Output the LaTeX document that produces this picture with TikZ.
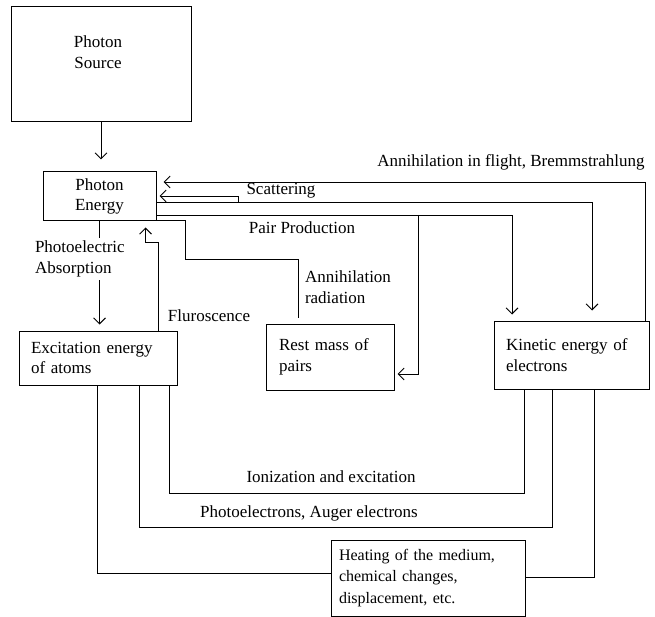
\documentclass[tikz,border=0pt]{standalone}
\usepackage{fontspec}
\setmainfont{Liberation Serif}
\usepackage{tikz}
\usetikzlibrary{calc}
\usetikzlibrary{arrows.meta,positioning}
\tikzset{
    boxnode/.style={
        draw,
        line width=1pt,
        rectangle,
        inner xsep=12pt,
        inner ysep=1pt
    },
    % arrows with open heads
    flowarrow/.style={
        line width=0.9pt,
        black,
        ->,
        >={Straight Barb[length=6pt, width=12pt]}
    },
    flowline/.style={
        line width=0.9pt,
        black
    }
}

\begin{document}
\begin{tikzpicture}[x=1pt,y=-1pt,font=\fontsize{17}{20.5}\selectfont]
	\useasboundingbox (0,0) rectangle (655,617);
	
	% boxes
	\node[boxnode,minimum width=180pt,minimum height=115pt] (source) at (101,64.5) {};
	\node[align=center] (sourcetext) at (98,52) {Photon\\Source};
	\node[boxnode,align=center,minimum width=113pt,minimum height=49pt,inner xsep=2pt] (energy) at (99.5,196.5) {Photon\\Energy};
	\node[boxnode,align=left,text width=134pt,minimum height=54pt] (excite) at (98,358) {Excitation energy\\of atoms};
	\node[boxnode,align=left,text width=102pt,minimum height=66pt,inner xsep=13pt] (rest) at (330,357) {Rest mass of\\pairs};
	\node[boxnode,align=left,text width=131pt,minimum height=68pt] (kinetic) at (571.5,355) {Kinetic energy of\\electrons};
	\node[boxnode,align=left,text width=178pt,minimum height=76pt,inner xsep=8pt,font=\fontsize{16}{21.5}\selectfont] (heat) at (428,578) {Heating of the medium,\\chemical changes,\\displacement, etc.};
	
	% source -> energy
	\draw[flowarrow] (source.south) -- ($(source.south |- energy.north)+(0,-12)$);
	
	% photoelectric absorption
	\node[align=left,anchor=west] (photoel) at (31.5,259) {Photoelectric\\Absorption};
	\draw[flowline] (energy.south) -- (energy.south |- photoel.north);
	\draw[flowarrow] (energy.south |- photoel.south) -- ($(excite.north -| energy.south)+(0,-6)$);
	
	% fluroscence
	\draw[flowarrow] ($(excite.north)+(60,0)$) -- ++(0,-88) -| ($(energy.south)+(46,6)$);
	\node (fluro) at (209,316) {Fluroscence};
	
	% annihilation in flight
	\draw[flowarrow] ($(kinetic.north)+(73.5,0)$) |- ($(energy.east)+(7,-14.5)$);
	\node (flight) at (511,162) {Annihilation in flight, Bremmstrahlung};
	
	% scattering
	\draw[flowarrow] ($(energy.east)+(0,5.5)$) -| ($(kinetic.north)+(20.5,-10)$);
	\draw[flowarrow] ($(energy.east)+(82,5.5)$) |- ($(energy.east)+(3,-0.5)$);
	\node (scatter) at (281,191) {Scattering};
	
	% pair production
	\draw[flowarrow] ($(energy.east)+(0,18.5)$) -| ($(kinetic.north)+(-59.5,-6)$);
	\draw[flowarrow] ($(energy.east)+(262,18.5)$) |- ($(rest.east)+(3,17)$);
	\node (pair) at (302,228) {Pair Production};
	
	% annihilation radiation
	\draw[flowline] ($(energy.east)+(0,23.5)$) -- ++(29,0) -- ++(0,39) -| ($(rest.north)+(-32,-6)$);
	\node[align=left,anchor=west] (annrad) at (301.5,287) {Annihilation\\radiation};
	
	% down to the medium
	\draw[flowline] ($(excite.south)+(71,0)$) -- ++(0,108) -| ($(kinetic.south)+(-47.5,0)$);
	\node (ioniz) at (331,477) {Ionization and excitation};
	\draw[flowline] ($(excite.south)+(41,0)$) -- ++(0,142) -| ($(kinetic.south)+(-19.5,0)$);
	\node (auger) at (309,513) {Photoelectrons, Auger electrons};
	\draw[flowline] ($(excite.south)+(-1,0)$) |- ($(heat.west)+(0,-5)$);
	\draw[flowline] ($(heat.east)+(0,-1)$) -| ($(kinetic.south)+(22.5,0)$);
\end{tikzpicture}
\end{document}
